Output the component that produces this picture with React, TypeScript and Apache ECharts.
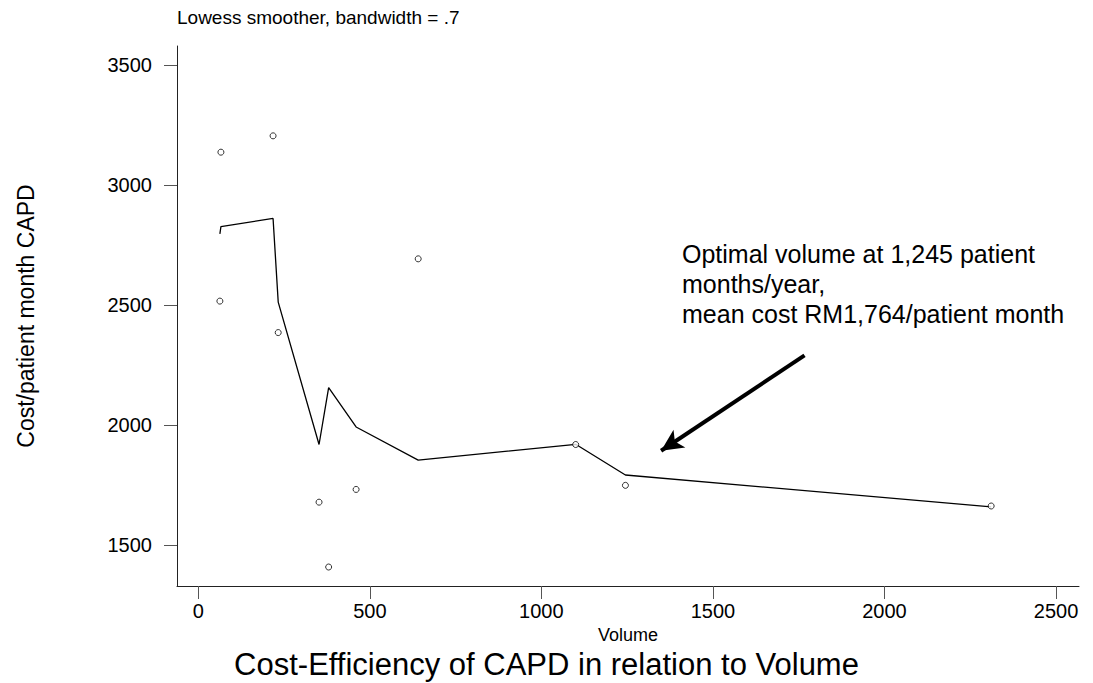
import React, { useEffect, useRef } from "react";
import * as echarts from "echarts";

const volume = [63, 66, 218, 233, 352, 380, 460, 641, 1100, 1245, 2311];
const cost = [2517, 3137, 3205, 2386, 1680, 1410, 1733, 2693, 1920, 1750, 1664];
const lowessFit = [2797, 2827, 2861, 2513, 1920, 2157, 1993, 1855, 1921, 1793, 1660];
const xTicks = [0, 500, 1000, 1500, 2000, 2500];
const yTicks = [1500, 2000, 2500, 3000, 3500];
const arrowFrom = [1767, 2291];
const arrowTo = [1349, 1894];
const annotationLines = [
  "Optimal volume at 1,245 patient",
  "months/year,",
  "mean cost RM1,764/patient month",
];

const FONT = "'Liberation Sans', Arial, sans-serif";

export default function App() {
  const ref = useRef<HTMLDivElement>(null);
  useEffect(() => {
    if (!ref.current) return;
    const chart = echarts.init(ref.current, null, { renderer: "svg" });
    const points = volume.map((v, i) => [v, cost[i]]);
    const smooth = volume.map((v, i) => [v, lowessFit[i]]);
    chart.setOption({
      animation: false,
      backgroundColor: "#ffffff",
      textStyle: { fontFamily: FONT, color: "#000" },
      title: {
        text: "Lowess smoother, bandwidth = .7",
        left: 172,
        top: 3,
        textStyle: { fontFamily: FONT, fontSize: 19, fontWeight: "normal", color: "#000" },
      },
      grid: { left: 177, right: 14, top: 46, bottom: 97, containLabel: false },
      xAxis: {
        type: "value",
        min: -62,
        max: 2567,
        name: "Volume",
        nameLocation: "middle",
        nameGap: 35,
        nameTextStyle: { fontFamily: FONT, fontSize: 18, color: "#000" },
        axisLine: { show: true, onZero: false, lineStyle: { color: "#222", width: 1 } },
        axisTick: { show: true, length: 13, customValues: xTicks, lineStyle: { color: "#555", width: 1 } },
        axisLabel: {
          customValues: xTicks,
          margin: 15,
          fontSize: 20,
          fontFamily: FONT,
          color: "#000",
          formatter: (v: number) => String(v),
        },
        splitLine: { show: false },
      },
      yAxis: {
        type: "value",
        min: 1331,
        max: 3579,
        name: "Cost/patient month CAPD",
        nameLocation: "middle",
        nameGap: 140,
        nameRotate: 90,
        nameTextStyle: { fontFamily: FONT, fontSize: 23, color: "#000" },
        axisLine: { show: true, onZero: false, lineStyle: { color: "#222", width: 1 } },
        axisTick: { show: true, length: 13, customValues: yTicks, lineStyle: { color: "#555", width: 1 } },
        axisLabel: {
          customValues: yTicks,
          margin: 25,
          fontSize: 20,
          fontFamily: FONT,
          color: "#000",
          formatter: (v: number) => String(v),
        },
        splitLine: { show: false },
      },
      graphic: [
        {
          type: "text",
          left: 682,
          top: 239,
          style: {
            text: annotationLines.join("\n"),
            fontFamily: FONT,
            fontSize: 25,
            lineHeight: 30,
            fill: "#000",
          },
        },
        {
          type: "text",
          left: "center",
          top: 649,
          style: {
            text: "Cost-Efficiency of CAPD in relation to Volume",
            fontFamily: FONT,
            fontSize: 31,
            fill: "#000",
          },
        },
      ],
      series: [
        {
          type: "line",
          data: smooth,
          showSymbol: false,
          symbol: "none",
          lineStyle: { color: "#000", width: 1.3 },
          z: 2,
          markLine: {
            silent: true,
            symbol: ["none", "arrow"],
            symbolSize: [16, 22],
            label: { show: false },
            lineStyle: { color: "#000", width: 4, type: "solid" },
            data: [[{ coord: arrowFrom }, { coord: arrowTo }]],
          },
        },
        {
          type: "scatter",
          data: points,
          symbol: "circle",
          symbolSize: 6,
          itemStyle: { color: "#fff", borderColor: "#000", borderWidth: 1 },
          z: 3,
        },
      ],
    });
    return () => chart.dispose();
  }, []);
  return (
    <div
      ref={ref}
      style={{ position: "absolute", left: 0, top: 0, width: 1093, height: 683 }}
    />
  );
}
